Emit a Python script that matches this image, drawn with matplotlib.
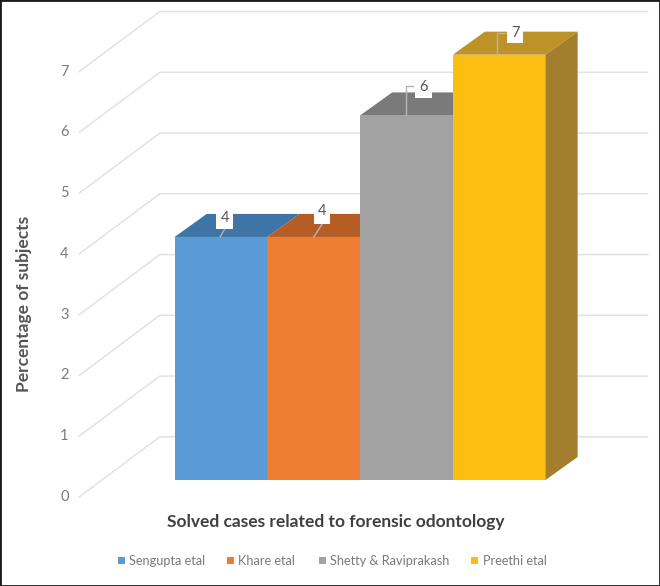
import matplotlib
matplotlib.use('Agg')
import matplotlib.pyplot as plt
from matplotlib.patches import Polygon, Rectangle

plt.rcParams['font.family'] = ['Lato', 'DejaVu Sans']

# Data
names = ['Sengupta etal', 'Khare etal', 'Shetty & Raviprakash', 'Preethi etal']
values = [4, 4, 6, 7]
ticks = [0, 1, 2, 3, 4, 5, 6, 7]
colors = ['#5b9bd5', '#ed7d31', '#a2a2a2', '#fdbe12']
top_colors = ['#3f74a6', '#b55d25', '#7a7a7a', '#bd9228']
side_color = '#a37e2c'

# one x unit = one bar (about 93 px), one y unit = one percent (about 61 px)
fig = plt.figure(figsize=(6.6, 5.86), dpi=100)
ax = fig.add_axes([0, 0, 1, 1])
ax.set_xlim(-2.383, 4.733)
ax.set_ylim(-1.745, 7.9)
ax.axis('off')

# bar depth
dx = 0.345
dy = 0.379

# 3d gridlines
for t in ticks:
    ax.plot([-1.53, -0.66, 4.6], [t - 0.28, t + 0.71, t + 0.71], color='#e2e2e2', lw=1.1, zorder=1)
    ax.text(-1.69, t - 0.28, str(t), color='#7a7a7a', fontsize=10.5, ha='center', va='center')

# bars
for i, v in enumerate(values):
    l = i - 0.5
    r = i + 0.5
    ax.add_patch(Polygon([(l, v), (r, v), (r + dx, v + dy), (l + dx, v + dy)], color=top_colors[i], lw=0, zorder=2 + i))
    ax.add_patch(Rectangle((l, 0), 1, v, color=colors[i], lw=0, zorder=3 + i))
r = len(values) - 0.5
v = values[-1]
ax.add_patch(Polygon([(r, 0), (r + dx, dy), (r + dx, v + dy), (r, v)], color=side_color, lw=0, zorder=8))

# value labels with leader lines
label_x = [0.04, 1.09, 2.18, 3.17]
label_y = [4.32, 4.42, 6.47, 7.36]
box_bottom = [4.13, 4.21, 6.29, 7.19]
lead_x = [[-0.01, 0.04], [1.0, 1.09], [1.99, 1.99, 2.07], [2.98, 2.98, 3.06]]
lead_y = [[4.0, 4.13], [4.0, 4.21], [6.0, 6.48, 6.48], [7.0, 7.36, 7.36]]
for i, v in enumerate(values):
    ax.plot(lead_x[i], lead_y[i], color='#b5b5b5', lw=1, zorder=9)
    ax.add_patch(Rectangle((label_x[i] - 0.09, box_bottom[i]), 0.18, 0.3, color='white', lw=0, zorder=10))
    ax.text(label_x[i], label_y[i], str(v), color='#555555', fontsize=10.5, ha='center', va='center', zorder=11)

ax.text(-2.125, 2.9, 'Percentage of subjects', rotation=90, fontsize=12.5, fontweight='bold', color='#555555', ha='center', va='center')
ax.text(1.24, -0.69, 'Solved cases related to forensic odontology', fontsize=12.5, fontweight='bold', color='#404040', ha='center', va='center')

# legend
leg_x = [-1.11, 0.065, 1.055, 2.70]
for i, n in enumerate(names):
    ax.add_patch(Rectangle((leg_x[i], -1.39), 0.075, 0.115, color=colors[i], lw=0))
    ax.text(leg_x[i] + 0.12, -1.335, n, fontsize=9.2, color='#7a7a7a', ha='left', va='center')

# image border
ax.add_patch(Rectangle((0, 0), 1, 1, transform=ax.transAxes, fill=False, edgecolor='#1a1a1a', lw=2, zorder=20))

plt.savefig('out.png', dpi=100)
